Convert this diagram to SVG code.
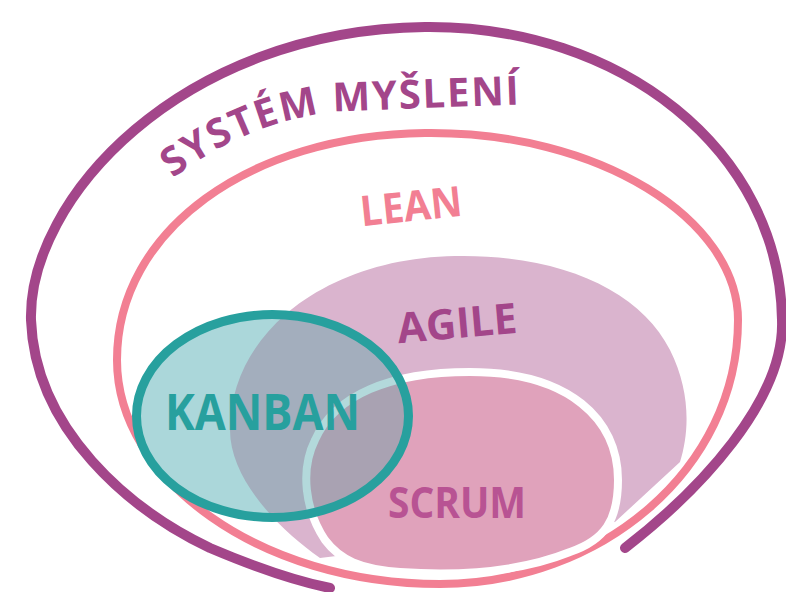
<svg xmlns="http://www.w3.org/2000/svg" xmlns:xlink="http://www.w3.org/1999/xlink" width="786" height="592" viewBox="0 0 786 592">
<style>
.lbl{font-family:"Open Sans","DejaVu Sans",sans-serif;font-weight:700;}
.ring{fill:none;stroke-linecap:round;stroke-linejoin:round;}
</style>
<defs>
<path id="agileShape" d="M 320,558 C 280,530 230,480 230,430 C 230,330 330,258 455,256 C 560,254 640,290 670,350 C 690,390 690,430 680,462 L 615,522 Z"/>
<path id="scrumShape" d="M 470,372 C 570,372 618,420 618,480 C 618,520 605,540 570,552 C 520,572 460,576 400,572 C 360,569 340,560 325,540 C 305,510 300,470 315,440 C 335,395 390,372 470,372 Z"/>
<ellipse id="kanbanShape" cx="272.5" cy="416" rx="136" ry="101.5"/>
<clipPath id="clipKanban"><use xlink:href="#kanbanShape"/></clipPath>
<path id="arcPath" d="M 168,182 Q 250,118 345,111 L 530,104"/>
</defs>
<rect width="786" height="592" fill="#ffffff"/>
<g id="system">
<path class="ring" d="M 330,588 C 290,580 250,565 210,548 C 130,510 35,430 31,320 C 28,200 180,30 425,27 C 620,25 780,150 782,320 C 785,400 700,490 625,548" stroke="#a3468a" stroke-width="10"/>
<text class="lbl" font-size="40" fill="#a3468a"><textPath xlink:href="#arcPath" startOffset="6" textLength="362" lengthAdjust="spacing">SYSTÉM MYŠLENÍ</textPath></text>
</g>
<g id="lean">
<path class="ring" d="M 425,133 C 600,131 738,220 738,320 C 738,470 600,584 440,584 C 260,584 117,480 117,360 C 117,230 250,135 425,133 Z" stroke="#f27f93" stroke-width="8"/>
<text class="lbl" x="411" y="221" font-size="42" fill="#f27f93" text-anchor="middle" textLength="102" lengthAdjust="spacingAndGlyphs" transform="rotate(-6 411 206)">LEAN</text>
</g>
<g id="agile">
<use xlink:href="#agileShape" fill="#dab4ce"/>
<text class="lbl" x="457" y="338" font-size="42" fill="#a3468a" text-anchor="middle" textLength="120" lengthAdjust="spacingAndGlyphs" transform="rotate(-5 457 323)">AGILE</text>
</g>
<g id="scrum">
<use xlink:href="#scrumShape" fill="#e0a2bb" stroke="#ffffff" stroke-width="8"/>
<text class="lbl" x="388" y="518" font-size="43" fill="#b85393" textLength="138" lengthAdjust="spacingAndGlyphs">SCRUM</text>
</g>
<g id="kanban">
<use xlink:href="#kanbanShape" fill="#abd7da"/>
<g clip-path="url(#clipKanban)">
<use xlink:href="#agileShape" fill="#a3aebd"/>
<use xlink:href="#scrumShape" fill="#a9a2b2" stroke="#b3d9db" stroke-width="8"/>
</g>
<use xlink:href="#kanbanShape" fill="none" stroke="#27a09e" stroke-width="9"/>
<text class="lbl" x="165" y="430" font-size="50" fill="#27a09e" textLength="195" lengthAdjust="spacingAndGlyphs">KANBAN</text>
</g>
<g id="connectors"></g>
</svg>
